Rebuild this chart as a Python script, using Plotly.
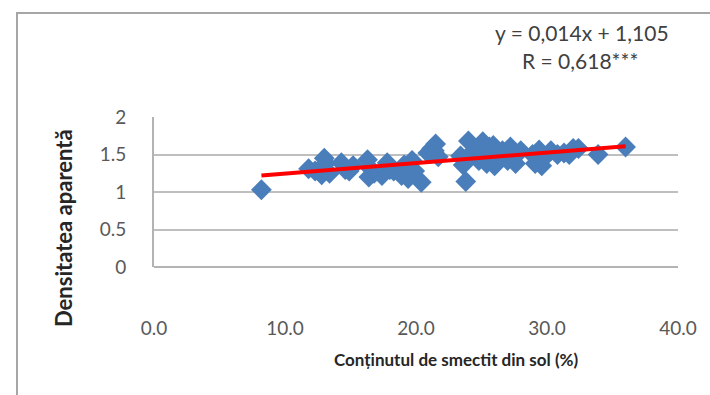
import plotly.graph_objects as go

# Smectite content in soil (%) and bulk density for each sample
smectit = [8.2, 11.8, 12.3, 12.8, 13.0, 13.1, 13.4, 14.3, 14.6, 14.9, 15.2,
           16.3, 16.4, 16.6, 16.8, 17.4, 17.8, 18.0, 18.3, 18.9, 19.1, 19.4,
           19.7, 19.9, 20.4, 20.9, 21.2, 21.5, 21.7, 21.4,
           23.4, 23.6, 23.8, 24.0, 24.4, 24.8, 25.1, 25.2, 25.4, 25.6,
           25.9, 26.0, 26.2, 26.6, 27.0, 27.2, 27.4, 27.6, 28.0,
           28.9, 29.1, 29.4, 29.6, 29.8, 30.3, 30.8, 31.3, 31.7, 32.0,
           32.4, 33.9, 36.0]
densitate = [1.03, 1.31, 1.28, 1.23, 1.45, 1.38, 1.25, 1.39, 1.30, 1.28, 1.35,
             1.43, 1.20, 1.30, 1.25, 1.22, 1.39, 1.30, 1.28, 1.22, 1.36, 1.18,
             1.42, 1.28, 1.13, 1.52, 1.58, 1.64, 1.47, 1.55,
             1.48, 1.36, 1.14, 1.68, 1.55, 1.42, 1.67, 1.52, 1.38, 1.60,
             1.62, 1.35, 1.48, 1.55, 1.42, 1.60, 1.50, 1.38, 1.55,
             1.50, 1.38, 1.56, 1.35, 1.46, 1.55, 1.50, 1.52, 1.50, 1.58,
             1.58, 1.50, 1.60]

# Linear fit reported in the annotation
panta = 0.014
intercept = 1.105
x_min, x_max = min(smectit), max(smectit)
trend_x = [x_min, x_max]
trend_y = [panta * v + intercept for v in trend_x]

x_ticks = [0, 10, 20, 30, 40]
x_tick_labels = ["0.0", "10.0", "20.0", "30.0", "40.0"]
y_ticks = [0, 0.5, 1, 1.5, 2]
y_tick_labels = ["0", "0.5", "1", "1.5", "2"]

W, H = 710, 395
ML, MR, MT, MB = 154, 32, 117, 128
pw, ph = W - ML - MR, H - MT - MB

def px(xp):
    return (xp - ML) / pw

def py(yp):
    return (H - MB - yp) / ph

fig = go.Figure()
fig.add_trace(go.Scatter(
    x=smectit, y=densitate, mode="markers",
    marker=dict(symbol="diamond", size=16, color="#4a7ebb", line=dict(width=0)),
    showlegend=False, hoverinfo="x+y",
))
fig.add_trace(go.Scatter(
    x=trend_x, y=trend_y, mode="lines",
    line=dict(color="#ff0000", width=4),
    showlegend=False,
))

tick_font = dict(family="Lato, Calibri, sans-serif", size=19, color="#595959")

fig.update_layout(
    width=W, height=H,
    margin=dict(l=ML, r=MR, t=MT, b=MB),
    paper_bgcolor="white", plot_bgcolor="white",
    xaxis=dict(
        range=[0, 40], tickmode="array", tickvals=x_ticks, ticktext=x_tick_labels,
        showgrid=False, zeroline=False, showline=False,
        ticks="outside", ticklen=44, tickcolor="rgba(0,0,0,0)",
        tickfont=tick_font,
    ),
    yaxis=dict(
        range=[0, 2], tickmode="array", tickvals=y_ticks, ticktext=y_tick_labels,
        showgrid=True, gridcolor="#bfbfbf", gridwidth=1.5,
        zeroline=False, showline=True, linecolor="#b3b3b3", linewidth=2,
        ticks="outside", ticklen=22, tickcolor="rgba(0,0,0,0)",
        tickfont=tick_font,
    ),
    shapes=[
        # outer chart frame
        dict(type="rect", xref="paper", yref="paper",
             x0=px(17), x1=px(730), y0=py(420), y1=py(13),
             line=dict(color="#a6a6a6", width=2), fillcolor="rgba(0,0,0,0)"),
        # bottom axis line
        dict(type="line", xref="paper", yref="paper",
             x0=0, x1=1, y0=0, y1=0, line=dict(color="#b3b3b3", width=2)),
    ],
    annotations=[
        dict(text="<b>Conținutul de smectit din sol (%)</b>", xref="paper", yref="paper",
             x=px(456), y=py(359), showarrow=False, xanchor="center", yanchor="middle",
             font=dict(family="Lato, Calibri, sans-serif", size=17, color="#262626")),
        dict(text="<b>Densitatea aparentă</b>", xref="paper", yref="paper",
             x=px(63), y=py(228), showarrow=False, xanchor="center", yanchor="middle",
             textangle=-90,
             font=dict(family="Lato, Calibri, sans-serif", size=22, color="#262626")),
        dict(text="y = 0,014x + 1,105", xref="paper", yref="paper",
             x=px(582), y=py(33), showarrow=False, xanchor="center", yanchor="middle",
             font=dict(family="Lato, Calibri, sans-serif", size=21, color="#404040")),
        dict(text="R = 0,618***", xref="paper", yref="paper",
             x=px(580), y=py(60), showarrow=False, xanchor="center", yanchor="middle",
             font=dict(family="Lato, Calibri, sans-serif", size=21, color="#404040")),
    ],
)

fig.write_html("out.html")
